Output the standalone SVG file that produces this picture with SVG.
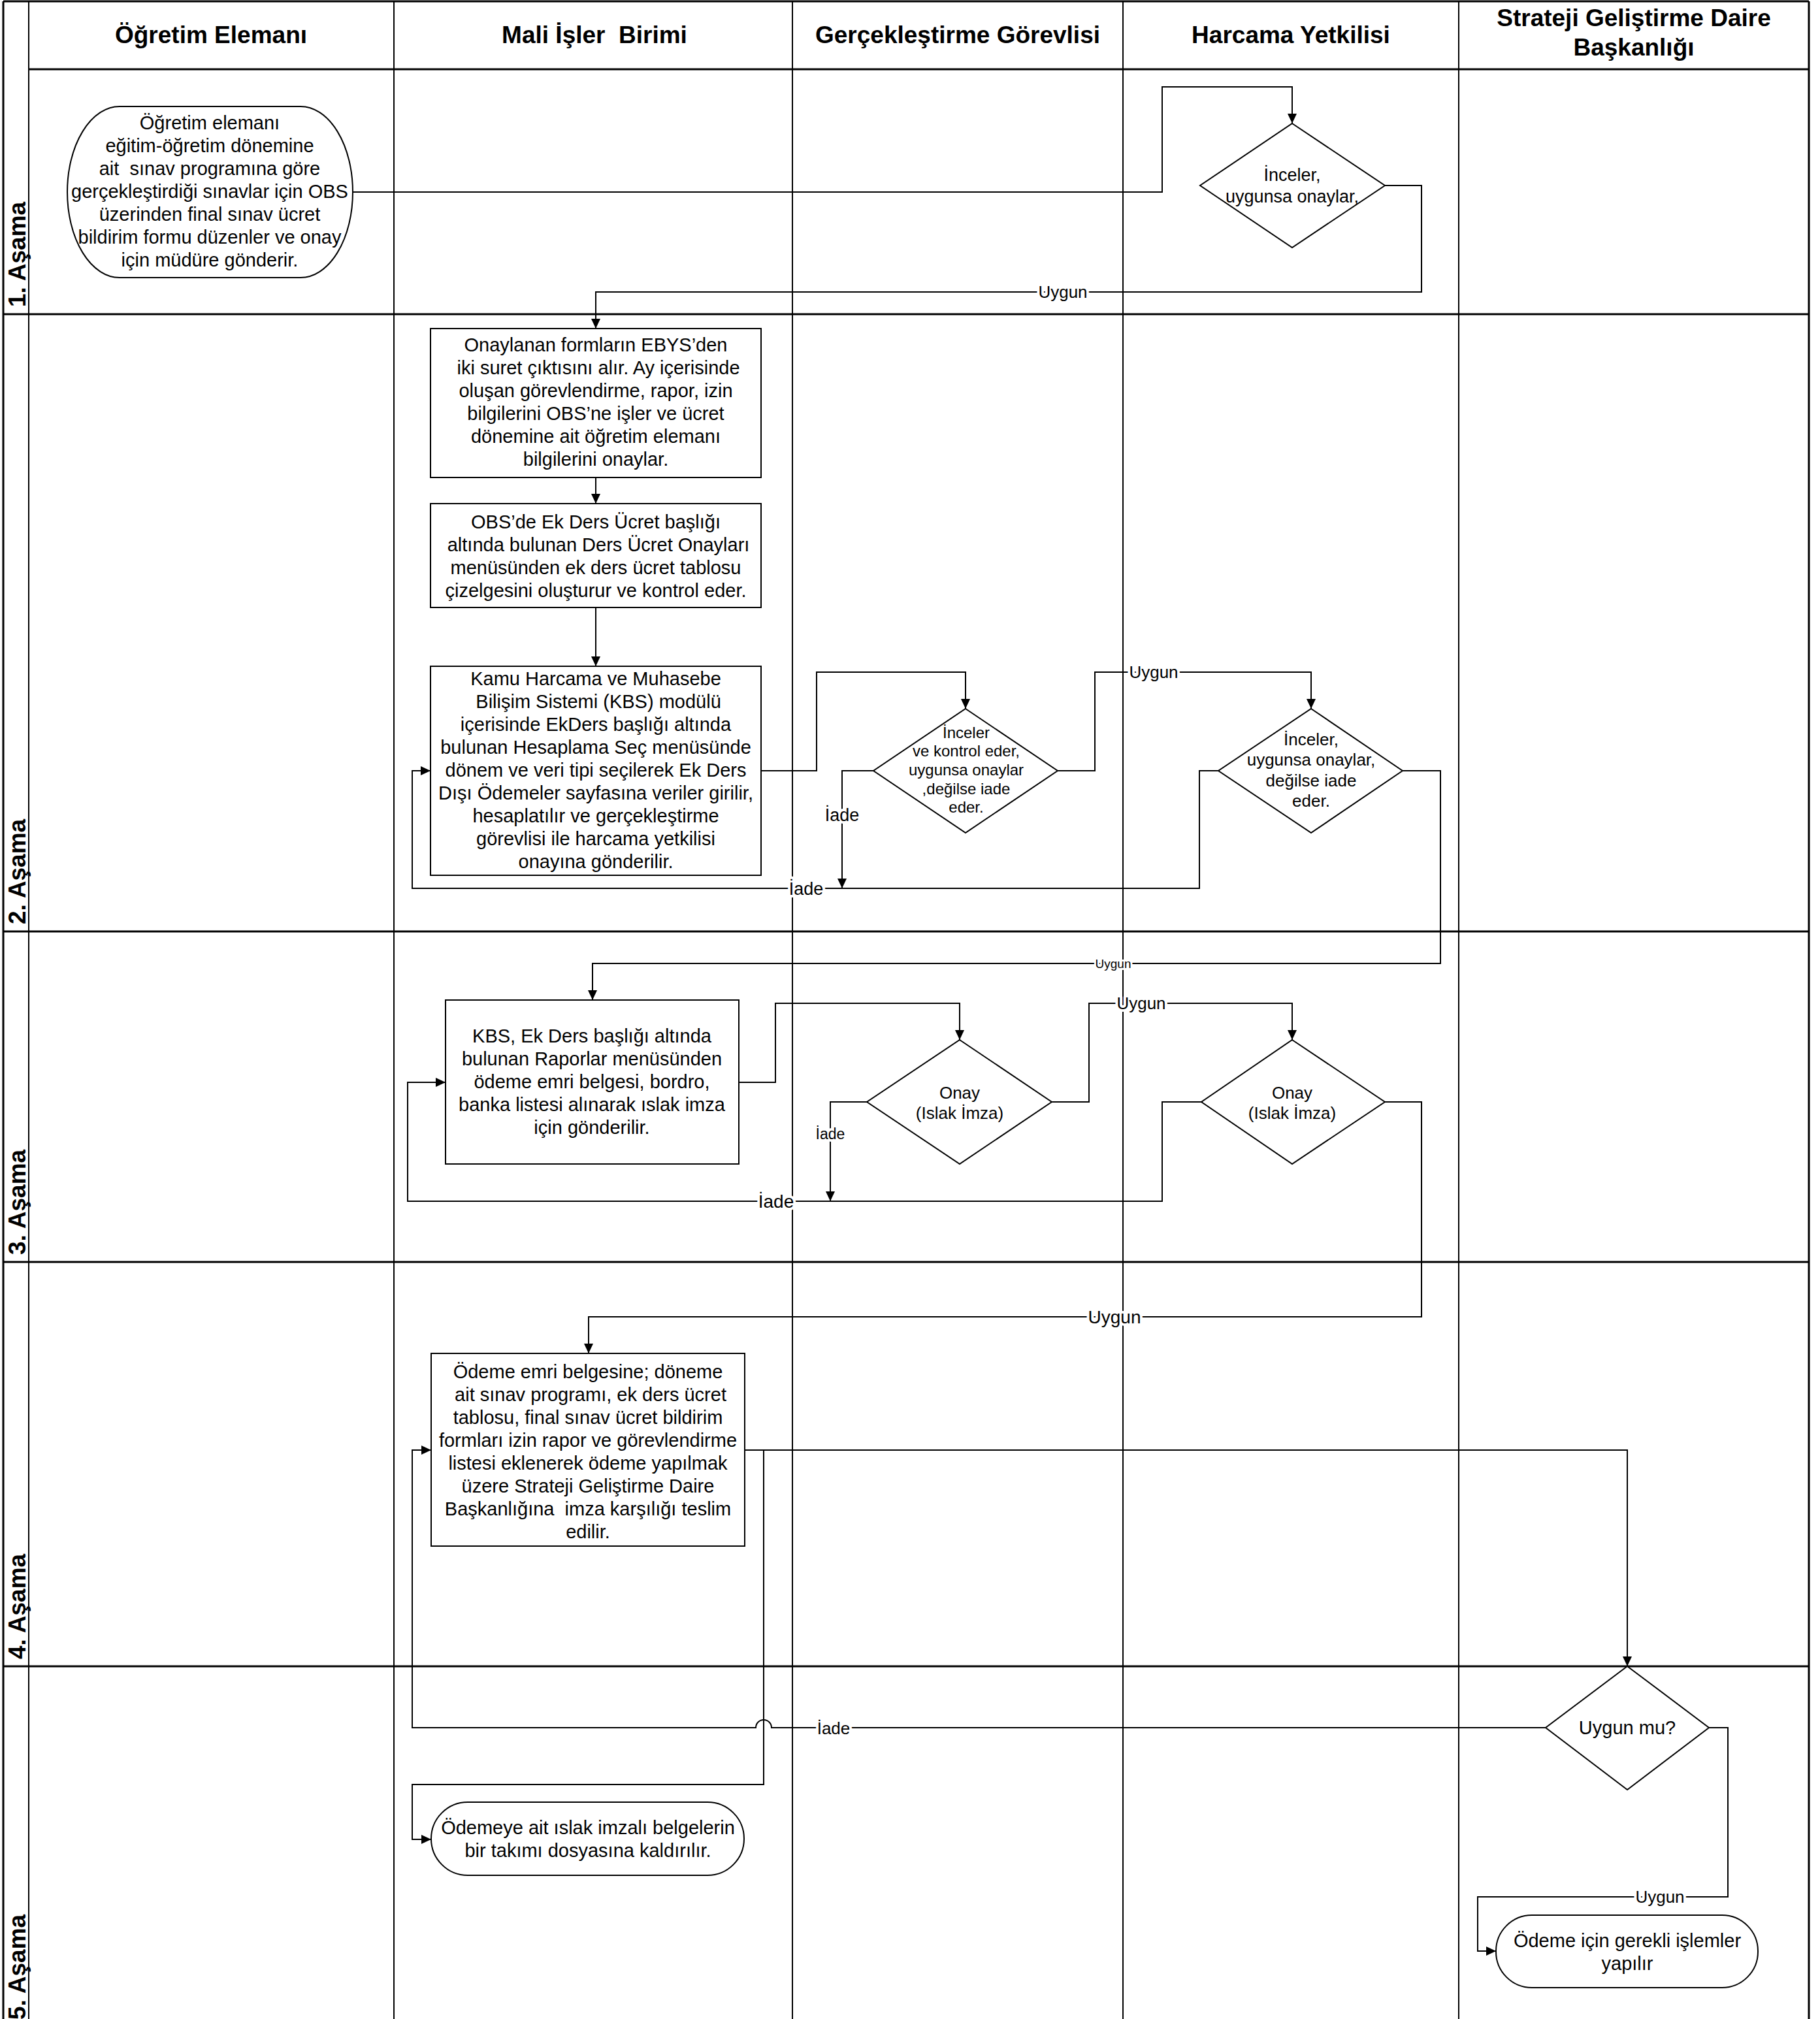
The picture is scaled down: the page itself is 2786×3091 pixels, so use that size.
<svg xmlns="http://www.w3.org/2000/svg" width="2786" height="3091" viewBox="0 0 2786 3091">
<style>
.bg{fill:#fff}
.lane{stroke:#000;stroke-width:2;fill:none}
.row{stroke:#000;stroke-width:3;fill:none}
.shape{fill:#fff;stroke:#000;stroke-width:2}
text{font-family:"Liberation Sans",Arial,sans-serif;fill:#000}
.t{font-size:29px;text-anchor:middle;white-space:pre}
.ts{font-size:24px;text-anchor:middle}
.tm{font-size:26px;text-anchor:middle}
.h{font-size:37px;font-weight:bold;text-anchor:middle;white-space:pre}
.rl{font-size:37px;font-weight:bold}
.conn{fill:none;stroke:#000;stroke-width:2}
.lbl{font-size:26px;text-anchor:middle;paint-order:stroke;stroke:#fff;stroke-width:8px;stroke-linejoin:round}
</style>
<defs>
<marker id="arr" markerUnits="userSpaceOnUse" markerWidth="16" markerHeight="14" refX="15" refY="7" orient="auto">
<path d="M0,0 L15,7 L0,14 Z" fill="#000"/>
</marker>
</defs>
<rect class="bg" x="0" y="0" width="2786" height="3091"/>

<g id="lanes">
<line class="row" x1="5" y1="2" x2="2769" y2="2"/>
<line class="row" x1="5" y1="2" x2="5" y2="3091"/>
<line class="row" x1="2769" y1="2" x2="2769" y2="3091"/>
<line class="lane" x1="44" y1="2" x2="44" y2="3091"/>
<line class="lane" x1="603" y1="2" x2="603" y2="3091"/>
<line class="lane" x1="1213" y1="2" x2="1213" y2="3091"/>
<line class="lane" x1="1719" y1="2" x2="1719" y2="3091"/>
<line class="lane" x1="2233" y1="2" x2="2233" y2="3091"/>
<line class="row" x1="44" y1="106" x2="2769" y2="106"/>
<line class="row" x1="5" y1="481" x2="2769" y2="481"/>
<line class="row" x1="5" y1="1426" x2="2769" y2="1426"/>
<line class="row" x1="5" y1="1932" x2="2769" y2="1932"/>
<line class="row" x1="5" y1="2551" x2="2769" y2="2551"/>
<text class="h" x="323" y="66">Öğretim Elemanı</text>
<text class="h" x="910" y="66">Mali İşler  Birimi</text>
<text class="h" x="1466" y="66">Gerçekleştirme Görevlisi</text>
<text class="h" x="1976" y="66">Harcama Yetkilisi</text>
<text class="h" x="2501" y="40">Strateji Geliştirme Daire</text>
<text class="h" x="2501" y="85">Başkanlığı</text>
<text class="rl" transform="translate(39,470) rotate(-90)">1. Aşama</text>
<text class="rl" transform="translate(39,1415) rotate(-90)">2. Aşama</text>
<text class="rl" transform="translate(39,1921) rotate(-90)">3. Aşama</text>
<text class="rl" transform="translate(39,2540) rotate(-90)">4. Aşama</text>
<text class="rl" transform="translate(39,3092) rotate(-90)">5. Aşama</text>
</g>

<g id="connectors">
<path class="conn" d="M540,294 H1779 V133 H1978 V189" marker-end="url(#arr)"/>
<path class="conn" d="M2120,284 H2176 V447 H912 V503" marker-end="url(#arr)"/>
<path class="conn" d="M912,731 V771" marker-end="url(#arr)"/>
<path class="conn" d="M912,930 V1020" marker-end="url(#arr)"/>
<path class="conn" d="M1165,1180 H1250 V1029 H1478 V1085" marker-end="url(#arr)"/>
<path class="conn" d="M1619,1180 H1676 V1029 H2007 V1085" marker-end="url(#arr)"/>
<path class="conn" d="M1337,1180 H1289 V1360" marker-end="url(#arr)"/>
<path class="conn" d="M1865,1180 H1836 V1360 H631 V1180 H659" marker-end="url(#arr)"/>
<path class="conn" d="M2147,1180 H2205 V1475 H907 V1531" marker-end="url(#arr)"/>
<path class="conn" d="M1131,1657 H1187 V1536 H1469 V1592" marker-end="url(#arr)"/>
<path class="conn" d="M1610,1687 H1667 V1536 H1978 V1592" marker-end="url(#arr)"/>
<path class="conn" d="M1327,1687 H1271 V1839" marker-end="url(#arr)"/>
<path class="conn" d="M1839,1687 H1779 V1839 H624 V1657 H682" marker-end="url(#arr)"/>
<path class="conn" d="M2120,1687 H2176 V2016 H901 V2072" marker-end="url(#arr)"/>
<path class="conn" d="M1140,2220 H2491 V2551" marker-end="url(#arr)"/>
<path class="conn" d="M1140,2220 H1169 V2732 H631 V2816 H660" marker-end="url(#arr)"/>
<path class="conn" d="M2366,2645 H1181 A12,12 0 0 0 1157,2645 H631 V2220 H660" marker-end="url(#arr)"/>
<path class="conn" d="M2616,2645 H2645 V2904 H2262 V2987 H2290" marker-end="url(#arr)"/>
<text class="lbl" x="1627" y="456">Uygun</text>
<text class="lbl" x="1766" y="1038">Uygun</text>
<text class="lbl" style="font-size:27px" x="1289" y="1257">İade</text>
<text class="lbl" style="font-size:27px" x="1234" y="1370">İade</text>
<text class="lbl" style="font-size:19px;stroke-width:6px" x="1704" y="1482">Uygun</text>
<text class="lbl" x="1747" y="1545">Uygun</text>
<text class="lbl" style="font-size:23px" x="1271" y="1744">İade</text>
<text class="lbl" style="font-size:28px" x="1188" y="1849">İade</text>
<text class="lbl" style="font-size:28px" x="1706" y="2026">Uygun</text>
<text class="lbl" x="1276" y="2655">İade</text>
<text class="lbl" x="2541" y="2913">Uygun</text>
</g>

<g id="start">
<rect class="shape" x="103" y="163" width="437" height="262" rx="80" ry="131"/>
<text class="t"><tspan x="321" y="198">Öğretim elemanı</tspan><tspan x="321" y="233">eğitim-öğretim dönemine</tspan><tspan x="321" y="268">ait  sınav programına göre</tspan><tspan x="321" y="303">gerçekleştirdiği sınavlar için OBS</tspan><tspan x="321" y="338">üzerinden final sınav ücret</tspan><tspan x="321" y="373">bildirim formu düzenler ve onay</tspan><tspan x="321" y="408">için müdüre gönderir.</tspan></text>
</g>

<g id="d1">
<polygon class="shape" points="1978,189 2120,284 1978,379 1837,284"/>
<text class="t" style="font-size:27px"><tspan x="1978" y="277">İnceler,</tspan><tspan x="1978" y="310">uygunsa onaylar,</tspan></text>
</g>

<g id="boxA">
<rect class="shape" x="659" y="503" width="506" height="228"/>
<text class="t"><tspan x="912" y="538">Onaylanan formların EBYS’den</tspan><tspan x="912" y="573"> iki suret çıktısını alır. Ay içerisinde</tspan><tspan x="912" y="608">oluşan görevlendirme, rapor, izin</tspan><tspan x="912" y="643">bilgilerini OBS’ne işler ve ücret</tspan><tspan x="912" y="678">dönemine ait öğretim elemanı</tspan><tspan x="912" y="713">bilgilerini onaylar.</tspan></text>
</g>

<g id="boxB">
<rect class="shape" x="659" y="771" width="506" height="159"/>
<text class="t"><tspan x="912" y="809">OBS’de Ek Ders Ücret başlığı</tspan><tspan x="912" y="844"> altında bulunan Ders Ücret Onayları</tspan><tspan x="912" y="879">menüsünden ek ders ücret tablosu</tspan><tspan x="912" y="914">çizelgesini oluşturur ve kontrol eder.</tspan></text>
</g>

<g id="boxC">
<rect class="shape" x="659" y="1020" width="506" height="320"/>
<text class="t"><tspan x="912" y="1049">Kamu Harcama ve Muhasebe</tspan><tspan x="912" y="1084"> Bilişim Sistemi (KBS) modülü</tspan><tspan x="912" y="1119">içerisinde EkDers başlığı altında</tspan><tspan x="912" y="1154">bulunan Hesaplama Seç menüsünde</tspan><tspan x="912" y="1189">dönem ve veri tipi seçilerek Ek Ders</tspan><tspan x="912" y="1224">Dışı Ödemeler sayfasına veriler girilir,</tspan><tspan x="912" y="1259">hesaplatılır ve gerçekleştirme</tspan><tspan x="912" y="1294">görevlisi ile harcama yetkilisi</tspan><tspan x="912" y="1329">onayına gönderilir.</tspan></text>
</g>

<g id="g1">
<polygon class="shape" points="1478,1085 1619,1180 1478,1275 1337,1180"/>
<text class="ts"><tspan x="1479" y="1130">İnceler</tspan><tspan x="1479" y="1158">ve kontrol eder,</tspan><tspan x="1479" y="1187">uygunsa onaylar</tspan><tspan x="1479" y="1216">,değilse iade</tspan><tspan x="1479" y="1244">eder.</tspan></text>
</g>

<g id="h1">
<polygon class="shape" points="2007,1085 2147,1180 2007,1275 1865,1180"/>
<text class="tm"><tspan x="2007" y="1141">İnceler,</tspan><tspan x="2007" y="1172">uygunsa onaylar,</tspan><tspan x="2007" y="1204">değilse iade</tspan><tspan x="2007" y="1235">eder.</tspan></text>
</g>

<g id="boxD">
<rect class="shape" x="682" y="1531" width="449" height="251"/>
<text class="t"><tspan x="906" y="1596">KBS, Ek Ders başlığı altında</tspan><tspan x="906" y="1631">bulunan Raporlar menüsünden</tspan><tspan x="906" y="1666">ödeme emri belgesi, bordro,</tspan><tspan x="906" y="1701">banka listesi alınarak ıslak imza</tspan><tspan x="906" y="1736">için gönderilir.</tspan></text>
</g>

<g id="g2">
<polygon class="shape" points="1469,1592 1610,1687 1469,1782 1327,1687"/>
<text class="tm"><tspan x="1469" y="1682">Onay</tspan><tspan x="1469" y="1713">(Islak İmza)</tspan></text>
</g>

<g id="h2">
<polygon class="shape" points="1978,1592 2120,1687 1978,1782 1839,1687"/>
<text class="tm"><tspan x="1978" y="1682">Onay</tspan><tspan x="1978" y="1713">(Islak İmza)</tspan></text>
</g>

<g id="boxE">
<rect class="shape" x="660" y="2072" width="480" height="295"/>
<text class="t"><tspan x="900" y="2110">Ödeme emri belgesine; döneme</tspan><tspan x="900" y="2145"> ait sınav programı, ek ders ücret</tspan><tspan x="900" y="2180">tablosu, final sınav ücret bildirim</tspan><tspan x="900" y="2215">formları izin rapor ve görevlendirme</tspan><tspan x="900" y="2250">listesi eklenerek ödeme yapılmak</tspan><tspan x="900" y="2285">üzere Strateji Geliştirme Daire</tspan><tspan x="900" y="2320">Başkanlığına  imza karşılığı teslim</tspan><tspan x="900" y="2355">edilir.</tspan></text>
</g>

<g id="d5">
<polygon class="shape" points="2491,2551 2616,2645 2491,2740 2366,2645"/>
<text class="t" x="2491" y="2655">Uygun mu?</text>
</g>

<g id="endF">
<rect class="shape" x="660" y="2759" width="479" height="112" rx="56" ry="56"/>
<text class="t"><tspan x="900" y="2808">Ödemeye ait ıslak imzalı belgelerin</tspan><tspan x="900" y="2843">bir takımı dosyasına kaldırılır.</tspan></text>
</g>

<g id="endG">
<rect class="shape" x="2290" y="2932" width="401" height="111" rx="55" ry="55"/>
<text class="t"><tspan x="2491" y="2981">Ödeme için gerekli işlemler</tspan><tspan x="2491" y="3016">yapılır</tspan></text>
</g>
</svg>
